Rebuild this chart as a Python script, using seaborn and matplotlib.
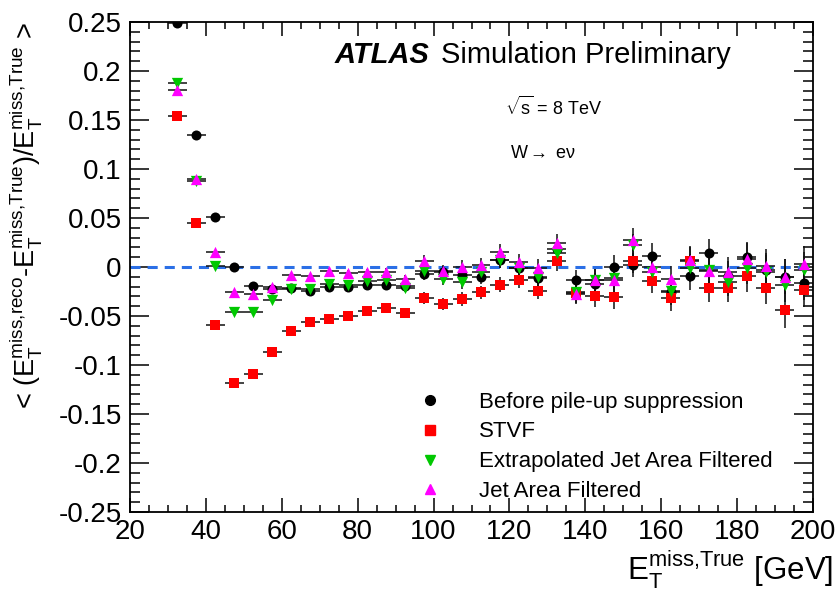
import pandas as pd
import seaborn as sns
import matplotlib.pyplot as plt
from matplotlib.ticker import MultipleLocator
from matplotlib.lines import Line2D

# bin centres of true MET [GeV], 5 GeV wide bins
et_true = [32.5, 37.5, 42.5, 47.5, 52.5, 57.5, 62.5, 67.5, 72.5, 77.5,
           82.5, 87.5, 92.5, 97.5, 102.5, 107.5, 112.5, 117.5, 122.5, 127.5,
           132.5, 137.5, 142.5, 147.5, 152.5, 157.5, 162.5, 167.5, 172.5, 177.5,
           182.5, 187.5, 192.5, 197.5]
half_width = 2.5

before = [0.249, 0.135, 0.051, 0.000, -0.019, -0.022, -0.021, -0.024, -0.020, -0.020,
          -0.018, -0.018, -0.019, -0.007, -0.005, -0.008, -0.010, 0.007, -0.001, -0.011,
          0.018, -0.013, -0.017, 0.000, 0.002, 0.011, -0.026, -0.009, 0.014, -0.009,
          0.010, -0.003, -0.010, -0.016]
stvf = [0.154, 0.045, -0.059, -0.118, -0.109, -0.087, -0.065, -0.056, -0.053, -0.050,
        -0.045, -0.042, -0.047, -0.032, -0.038, -0.033, -0.026, -0.018, -0.013, -0.024,
        0.006, -0.027, -0.030, -0.031, 0.006, -0.014, -0.032, 0.006, -0.021, -0.021,
        -0.009, -0.021, -0.044, -0.023]
extrap_jaf = [0.188, 0.088, 0.001, -0.046, -0.046, -0.034, -0.022, -0.022, -0.017, -0.018,
              -0.014, -0.013, -0.021, -0.004, -0.012, -0.015, -0.005, 0.007, -0.001, -0.010,
              0.014, -0.025, -0.013, -0.011, 0.022, -0.005, -0.024, -0.001, -0.003, -0.015,
              -0.001, -0.005, -0.018, -0.003]
jaf = [0.181, 0.090, 0.015, -0.026, -0.028, -0.020, -0.008, -0.009, -0.004, -0.006,
       -0.005, -0.005, -0.012, 0.006, -0.004, 0.000, 0.002, 0.015, 0.005, -0.001,
       0.024, -0.028, -0.013, -0.013, 0.028, 0.000, -0.012, 0.007, -0.004, -0.005,
       0.008, 0.001, -0.010, 0.003]
# statistical uncertainty per bin (similar for all methods)
unc = [0.001, 0.001, 0.001, 0.001, 0.002, 0.002, 0.002, 0.002, 0.003, 0.003,
       0.003, 0.004, 0.004, 0.006, 0.006, 0.007, 0.007, 0.008, 0.008, 0.009,
       0.010, 0.010, 0.011, 0.012, 0.012, 0.013, 0.013, 0.014, 0.015, 0.015,
       0.016, 0.017, 0.018, 0.018]

labels = ["Before pile-up suppression", "STVF",
          "Extrapolated Jet Area Filtered", "Jet Area Filtered"]
series = [before, stvf, extrap_jaf, jaf]
colors = ["black", "#ff0000", "#00c800", "#ff00ff"]
markers = ["o", "s", "v", "^"]
sizes = [52, 54, 66, 66]

sns.set_style("ticks")
plt.rcParams["font.family"] = ["Liberation Sans", "DejaVu Sans"]
plt.rcParams["text.color"] = "black"
plt.rcParams["axes.labelcolor"] = "black"
plt.rcParams["mathtext.fontset"] = "custom"
plt.rcParams["mathtext.rm"] = "Liberation Sans"
plt.rcParams["mathtext.it"] = "Liberation Sans"
plt.rcParams["mathtext.bf"] = "Liberation Sans:bold"

fig = plt.figure(figsize=(8.36, 5.98), dpi=100)
ax = fig.add_axes([130/836, 1 - 512/598, 683/836, 490/598])

ax.axhline(0, color="#2b6fe6", lw=2.2, ls=(0, (3.3, 2.3)), zorder=1)

for vals, lab, col, mk, sz in zip(series, labels, colors, markers, sizes):
    df = pd.DataFrame({"et": et_true, "resp": vals, "err": unc})
    ax.errorbar(df["et"], df["resp"], xerr=half_width, yerr=df["err"], fmt="none",
                ecolor="#111111", elinewidth=1.1, capsize=0, zorder=2)
    sns.scatterplot(data=df, x="et", y="resp", color=col, marker=mk, s=sz,
                    linewidth=0, ax=ax, zorder=3)

ax.set_xlim(20, 200)
ax.set_ylim(-0.25, 0.25)
ax.xaxis.set_major_locator(MultipleLocator(20))
ax.xaxis.set_minor_locator(MultipleLocator(5))
ax.yaxis.set_major_locator(MultipleLocator(0.05))
ax.yaxis.set_minor_locator(MultipleLocator(0.01))
ax.set_yticks([-0.25, -0.2, -0.15, -0.1, -0.05, 0, 0.05, 0.1, 0.15, 0.2, 0.25])
ax.set_yticklabels(["-0.25", "-0.2", "-0.15", "-0.1", "-0.05", "0",
                    "0.05", "0.1", "0.15", "0.2", "0.25"])
ax.tick_params(axis="both", which="both", direction="in", top=True, right=True,
               labelsize=20, width=1.1, colors="black")
ax.tick_params(axis="x", which="major", length=10, pad=5)
ax.tick_params(axis="x", which="minor", length=5)
ax.tick_params(axis="y", which="major", length=14, pad=6)
ax.tick_params(axis="y", which="minor", length=7)
for sp in ax.spines.values():
    sp.set_linewidth(1.3)
    sp.set_color("black")

ax.set_xlabel(r"E$_\mathrm{T}^\mathrm{miss{,}True}$ [GeV]", fontsize=22.5, loc="right")
ax.xaxis.set_label_coords(1.029, -0.075)
ax.set_ylabel(r"< (E$_\mathrm{T}^\mathrm{miss{,}reco}$-E$_\mathrm{T}^\mathrm{miss{,}True}$)"
              r"/E$_\mathrm{T}^\mathrm{miss{,}True}$ >", fontsize=19.5, loc="top")
ax.yaxis.set_label_coords(-0.125, 1.0)

fig.text(335/836, 1 - 63/598, "ATLAS", fontsize=21, fontweight="bold",
         fontstyle="italic", va="baseline")
fig.text(441/836, 1 - 63/598, "Simulation Preliminary", fontsize=21, va="baseline")
fig.text(505/836, 1 - 115/598, r"$\sqrt{\mathrm{s}}$ = 8 TeV", fontsize=13, va="baseline")
fig.text(510/836, 1 - 158/598, r"W$\rightarrow$ e$\nu$", fontsize=13, va="baseline")

handles = [Line2D([], [], ls="none", marker=mk, color=col, markersize=7)
           for col, mk in zip(colors, markers)]
ax.legend(handles, labels, loc="lower left", bbox_to_anchor=(0.423, 0.02),
          frameon=False, fontsize=16, handlelength=1.0, handletextpad=1.7,
          labelspacing=0.4, borderpad=0, borderaxespad=0)

plt.savefig("out.png", dpi=100)
